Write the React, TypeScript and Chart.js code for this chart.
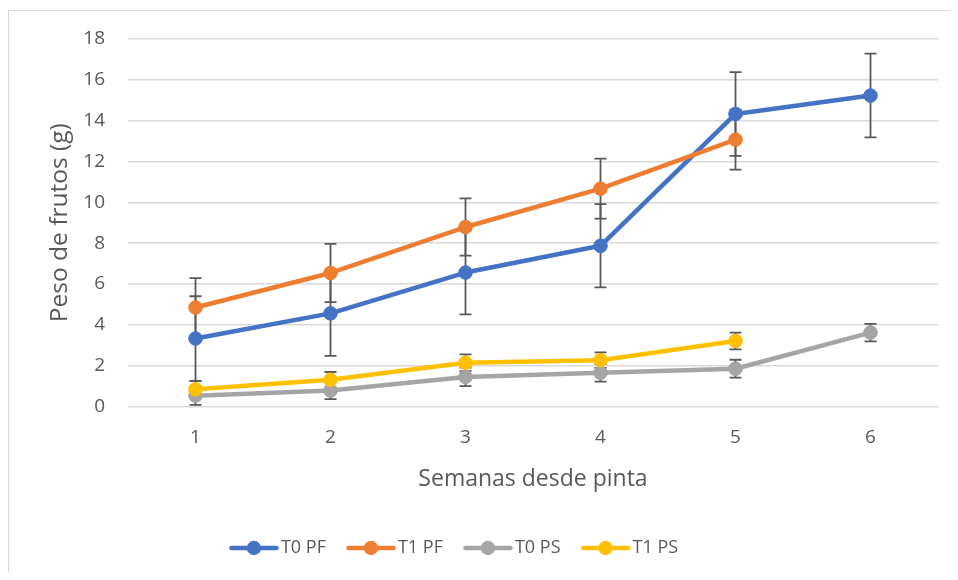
import React, { useEffect, useRef } from "react";
import { Chart, registerables } from "chart.js";

Chart.register(...registerables);

// ---- data ----
const weeks = ["1", "2", "3", "4", "5", "6"];
const seriesNames = ["T0 PF", "T1 PF", "T0 PS", "T1 PS"];

const t0pf = [3.33, 4.56, 6.56, 7.87, 14.33, 15.23];
const t0pfErr = [2.07, 2.08, 2.05, 2.04, 2.05, 2.05];

const t1pf = [4.85, 6.54, 8.79, 10.67, 13.07, null];
const t1pfErr = [1.44, 1.43, 1.4, 1.47, 1.47, null];

const t0ps = [0.53, 0.78, 1.45, 1.65, 1.85, 3.62];
const t0psErr = [0.45, 0.42, 0.45, 0.43, 0.44, 0.43];

const t1ps = [0.84, 1.31, 2.14, 2.27, 3.21, null];
const t1psErr = [0.42, 0.38, 0.41, 0.38, 0.41, null];

const yMin = 0;
const yMax = 18;
const yStep = 2;

const xTitle = "Semanas desde pinta";
const yTitle = "Peso de frutos (g)";

// ---- styles ----
const colors = ["#4472C4", "#ED7D31", "#A5A5A5", "#FFC000"];
const textColor = "#595959";
const gridColor = "#d9d9d9";
const fontFamily = "'Open Sans', sans-serif";

const seriesValues = [t0pf, t1pf, t0ps, t1ps];
const seriesErrors = [t0pfErr, t1pfErr, t0psErr, t1psErr];

function makeIcon(color: string) {
  const c = document.createElement("canvas");
  c.width = 50;
  c.height = 16;
  const g = c.getContext("2d")!;
  g.strokeStyle = color;
  g.lineWidth = 4.5;
  g.lineCap = "round";
  g.beginPath();
  g.moveTo(2.5, 8);
  g.lineTo(47.5, 8);
  g.stroke();
  g.fillStyle = color;
  g.beginPath();
  g.arc(25, 8, 7.2, 0, Math.PI * 2);
  g.fill();
  return c;
}

const errorBarPlugin = {
  id: "errorBars",
  beforeDatasetsDraw(chart: any) {
    const { ctx, scales } = chart;
    const x = scales.x;
    const y = scales.y;
    ctx.save();
    ctx.strokeStyle = "#595959";
    ctx.lineWidth = 1.8;
    const cap = 6;
    seriesValues.forEach((vals, si) => {
      const errs = seriesErrors[si];
      vals.forEach((v, i) => {
        const e = errs[i];
        if (v == null || e == null) return;
        const px = x.getPixelForValue(i);
        const top = y.getPixelForValue(v + e);
        const bot = y.getPixelForValue(Math.max(v - e, yMin));
        ctx.beginPath();
        ctx.moveTo(px, top);
        ctx.lineTo(px, bot);
        ctx.moveTo(px - cap, top);
        ctx.lineTo(px + cap, top);
        ctx.moveTo(px - cap, bot);
        ctx.lineTo(px + cap, bot);
        ctx.stroke();
      });
    });
    ctx.restore();
  },
};

const legendShiftPlugin = {
  id: "legendShift",
  afterLayout(chart: any) {
    const lg = chart.legend;
    if (lg) {
      lg.left -= 16.5;
      lg.right -= 16.5;
    }
  },
};

export default function App() {
  const ref = useRef<HTMLCanvasElement>(null);

  useEffect(() => {
    const icons = colors.map((c) => makeIcon(c));
    const chart = new Chart(ref.current!, {
      type: "line",
      data: {
        labels: weeks,
        datasets: seriesNames.map((name, i) => ({
          label: name,
          data: seriesValues[i],
          borderColor: colors[i],
          backgroundColor: colors[i],
          pointBackgroundColor: colors[i],
          pointBorderColor: colors[i],
          borderWidth: 4.5,
          pointRadius: 6.8,
          pointBorderWidth: 1,
          pointHoverRadius: 6.8,
          borderJoinStyle: "round",
          borderCapStyle: "round",
          tension: 0,
          spanGaps: false,
          order: seriesNames.length - 1 - i,
          clip: false as any,
        })),
      },
      options: {
        responsive: false,
        animation: false,
        events: [],
        layout: { padding: { left: 0, right: 12, top: 28, bottom: 5 } },
        font: { family: fontFamily },
        scales: {
          x: {
            type: "category",
            offset: true,
            grid: { display: false, drawTicks: false },
            border: { display: false },
            ticks: {
              color: textColor,
              padding: 20,
              font: { family: fontFamily, size: 19 },
            },
            title: {
              display: true,
              text: xTitle,
              color: textColor,
              font: { family: fontFamily, size: 23 },
              padding: { top: 0, bottom: 19 },
            },
            afterFit: (scale: any) => {
              scale.height = 105.5;
            },
          },
          y: {
            min: yMin,
            max: yMax,
            grid: { color: gridColor, lineWidth: 1.5, drawTicks: false },
            border: { display: false },
            ticks: {
              stepSize: yStep,
              color: textColor,
              padding: 23,
              font: { family: fontFamily, size: 19 },
            },
            title: {
              display: true,
              text: yTitle,
              color: textColor,
              font: { family: fontFamily, size: 24.5 },
              padding: { top: 36.3, bottom: 0 },
            },
            afterFit: (scale: any) => {
              scale.width = 119;
              scale.paddingTop = 10;
              scale.paddingBottom = 10;
            },
          },
        },
        plugins: {
          tooltip: { enabled: false },
          legend: {
            display: true,
            position: "bottom",
            labels: {
              usePointStyle: true,
              pointStyleWidth: 36,
              padding: 27,
              color: textColor,
              font: { family: fontFamily, size: 18 },
              generateLabels: (ch: any) =>
                ch.data.datasets.map((ds: any, i: number) => ({
                  text: ds.label,
                  pointStyle: icons[i],
                  datasetIndex: i,
                  fillStyle: colors[i],
                  strokeStyle: colors[i],
                  lineWidth: 0,
                  hidden: false,
                  fontColor: textColor,
                })),
            },
          },
        },
      },
      plugins: [errorBarPlugin, legendShiftPlugin],
    } as any);
    return () => chart.destroy();
  }, []);

  return (
    <div style={{ paddingTop: 2 }}>
      <div
        style={{
          borderLeft: "1px solid #d9d9d9",
          borderTop: "1px solid #d9d9d9",
          width: 941,
          height: 561,
        }}
      >
        <canvas
          ref={ref}
          width={941}
          height={561}
          style={{ display: "block", width: 941, height: 561 }}
        />
      </div>
    </div>
  );
}
